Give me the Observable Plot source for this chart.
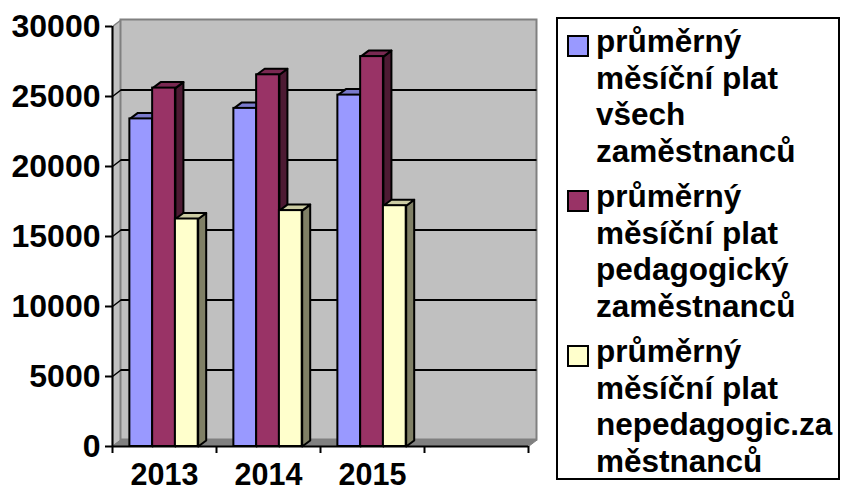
<!DOCTYPE html>
<html>
<head>
<meta charset="utf-8">
<script src="https://cdn.jsdelivr.net/npm/d3@7"></script>
<script src="https://cdn.jsdelivr.net/npm/@observablehq/plot@0.6"></script>
<style>
  html, body { margin: 0; padding: 0; background: #fff; }
  #wrap { position: relative; width: 841px; height: 492px; overflow: hidden; font-family: "Liberation Sans", Arial, sans-serif; }
  #chart { position: absolute; left: 0; top: 0; }
  #legend { position: absolute; left: 556px; top: 17px; width: 284px; height: 463px; box-sizing: border-box;
            border: 2px solid #000; padding: 4px 0 0 9px; font-weight: bold; font-size: 31.5px; line-height: 36.5px; color: #000; }
  .item { display: flex; align-items: flex-start; margin-bottom: 9px; }
  .sw { flex: none; width: 18px; height: 18px; border: 2px solid #000; margin-top: 12px; margin-right: 7px; }
</style>
</head>
<body>
<div id="wrap">
  <div id="chart"></div>
  <div id="legend"></div>
</div>
<script>
// ---- data ----
const years = ["2013", "2014", "2015"];
const seriesNames = [
  "průměrný\nměsíční plat\nvšech\nzaměstnanců",
  "průměrný\nměsíční plat\npedagogický\nzaměstnanců",
  "průměrný\nměsíční plat\nnepedagogic.za\nměstnanců"
];
const platVsech = [23400, 24150, 25100];
const platPedagog = [25600, 26550, 27850];
const platNepedagog = [16250, 16850, 17200];
const seriesColors = ["#9999FF", "#993366", "#FFFFCC"];
const topColors = ["#7A7ACC", "#7A2952", "#CCCCA3"];
const sideColors = ["#4D4D80", "#4D1A33", "#808066"];
const yTicks = [0, 5000, 10000, 15000, 20000, 25000, 30000];
const nSlots = 4; // Excel leaves one empty category slot

// ---- layout ----
const W = 548, H = 492;
const mL = 112, mR = 20, mT = 26, mB = 46;
const yMax = 30000;
const pxPerX = (W - mL - mR) / nSlots;
const pxPerY = (H - mT - mB) / yMax;
const bdx = 8 / pxPerX, bdy = 6 / pxPerY;        // bar depth in data units
const wdx = 8.5 / pxPerX, wdy = 6.5 / pxPerY;    // wall depth
const barOff = 0.167, barW = 0.219;

const seriesValues = [platVsech, platPedagog, platNepedagog];
const bars = [];
seriesValues.forEach((vals, s) => {
  vals.forEach((v, i) => {
    const x1 = i + barOff + s * barW;
    bars.push({s, i, x1, x2: x1 + barW, v});
  });
});

function sidePoly(b) {
  return [[b.x2, 0], [b.x2 + bdx, bdy], [b.x2 + bdx, b.v + bdy], [b.x2, b.v]];
}
function topPoly(b) {
  return [[b.x1, b.v], [b.x2, b.v], [b.x2 + bdx, b.v + bdy], [b.x1 + bdx, b.v + bdy]];
}
function polyRows(list, fn) {
  const rows = [];
  list.forEach((b, k) => fn(b).forEach(([x, y]) => rows.push({id: k, x, y})));
  return rows;
}

const leftWall = [[0, 0], [wdx, wdy], [wdx, yMax + wdy], [0, yMax]].map(([x, y]) => ({id: 0, x, y}));
const floor = [[0, 0], [nSlots, 0], [nSlots + wdx, wdy], [wdx, wdy]].map(([x, y]) => ({id: 0, x, y}));
const gridVals = yTicks.filter(t => t > 0 && t < yMax);

const marks = [
  Plot.line(leftWall, {x: "x", y: "y", z: "id", curve: "linear-closed", fill: "#C0C0C0", stroke: "#808080", strokeWidth: 1.5}),
  Plot.rect([0], {x1: wdx, x2: nSlots + wdx, y1: wdy, y2: yMax + wdy, fill: "#C0C0C0", stroke: "#808080", strokeWidth: 2}),
  Plot.line(floor, {x: "x", y: "y", z: "id", curve: "linear-closed", fill: "#808080", stroke: "#808080", strokeWidth: 1}),
  Plot.ruleY(gridVals, {y: d => d + wdy, x1: wdx, x2: nSlots + wdx, stroke: "#000", strokeWidth: 2}),
  Plot.link(gridVals, {x1: 0, y1: d => d, x2: wdx, y2: d => d + wdy, stroke: "#000", strokeWidth: 1.5})
];
// side + top faces, in series order
for (let s = 0; s < 3; s++) {
  const list = bars.filter(b => b.s === s);
  marks.push(Plot.line(polyRows(list, sidePoly), {x: "x", y: "y", z: "id", curve: "linear-closed", fill: sideColors[s], stroke: "#000", strokeWidth: 2, strokeLinejoin: "round"}));
  marks.push(Plot.line(polyRows(list, topPoly), {x: "x", y: "y", z: "id", curve: "linear-closed", fill: topColors[s], stroke: "#000", strokeWidth: 2, strokeLinejoin: "round"}));
}
// front faces
marks.push(Plot.rect(bars, {x1: "x1", x2: "x2", y1: 0, y2: "v", fill: d => seriesColors[d.s], stroke: "#000", strokeWidth: 2}));
// axes
marks.push(Plot.ruleX([0], {y1: 0, y2: yMax, stroke: "#000", strokeWidth: 2}));
marks.push(Plot.ruleY([0], {x1: 0, x2: nSlots, stroke: "#000", strokeWidth: 2}));
marks.push(Plot.axisY({ticks: yTicks, tickSize: 7, tickPadding: 5, tickFormat: d3.format("d"), fontSize: 32, fontWeight: "bold", strokeWidth: 2, label: null}));
marks.push(Plot.axisX({ticks: d3.range(nSlots + 1), tickSize: 7, tickFormat: () => "", strokeWidth: 2, label: null}));
marks.push(Plot.axisX({ticks: years.map((_, i) => i + 0.5), tickSize: 0, tickPadding: 17, tickFormat: d => years[Math.floor(d)], fontSize: 30.5, fontWeight: "bold", label: null}));

const chart = Plot.plot({
  width: W, height: H,
  marginLeft: mL, marginRight: mR, marginTop: mT, marginBottom: mB,
  x: {type: "linear", domain: [0, nSlots]},
  y: {type: "linear", domain: [0, yMax]},
  style: {fontFamily: "'Liberation Sans', Arial, sans-serif", fontWeight: "bold", color: "#000", background: "transparent", overflow: "visible"},
  marks
});
document.getElementById("chart").appendChild(chart);

// legend
const legend = document.getElementById("legend");
seriesNames.forEach((name, s) => {
  const item = document.createElement("div");
  item.className = "item";
  const sw = document.createElement("div");
  sw.className = "sw";
  sw.style.background = seriesColors[s];
  const txt = document.createElement("div");
  txt.innerHTML = name.split("\n").join("<br>");
  item.appendChild(sw);
  item.appendChild(txt);
  legend.appendChild(item);
});
</script>
</body>
</html>
